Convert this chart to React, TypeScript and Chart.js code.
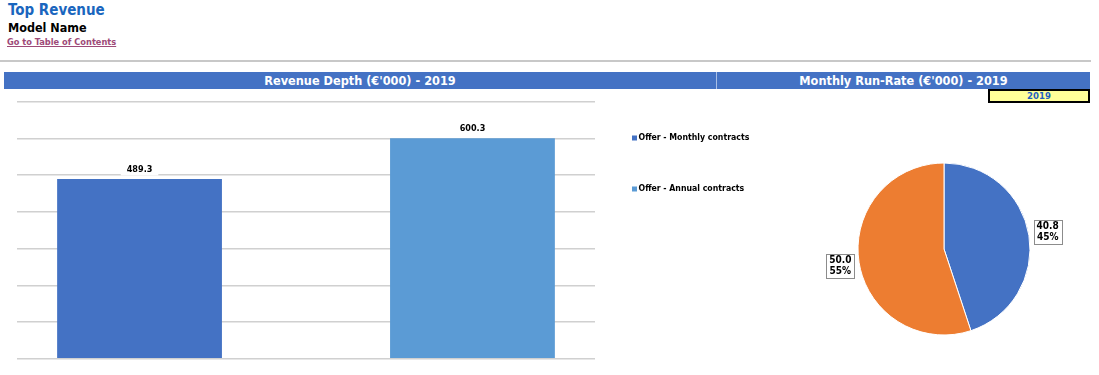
import React, { useEffect, useRef } from "react";
import { Chart, registerables } from "chart.js";
Chart.register(...registerables);

const barCategory = ["2019"];
const barSeries = ["Offer - Monthly contracts", "Offer - Annual contracts"];
const barValues = [489.3, 600.3];
const barColors = ["#4472C4", "#5B9BD5"];
const yMin = 0;
const yMax = 700;
const yStep = 100;

const pieLabels = ["Offer - Monthly contracts", "Offer - Annual contracts"];
const pieValues = [40.8, 50.0];
const pieColors = ["#4472C4", "#ED7D31"];

const pageTitle = "Top Revenue";
const modelName = "Model Name";
const tocLink = "Go to Table of Contents";
const leftHeader = "Revenue Depth (€'000) - 2019";
const rightHeader = "Monthly Run-Rate (€'000) - 2019";
const yearBox = "2019";

const FONT = "'DejaVu Sans Condensed', 'DejaVu Sans', sans-serif";

const barLabelPlugin = {
  id: "barLabels",
  afterDatasetsDraw(chart: any) {
    const ctx = chart.ctx;
    ctx.save();
    ctx.font = `bold 9px ${FONT}`;
    ctx.textAlign = "center";
    ctx.textBaseline = "middle";
    chart.data.datasets.forEach((ds: any, di: number) => {
      const meta = chart.getDatasetMeta(di);
      meta.data.forEach((el: any, i: number) => {
        const txt = Number(ds.data[i]).toFixed(1);
        const w = ctx.measureText(txt).width + 12;
        const y = el.y - 9.5;
        ctx.fillStyle = "#FFFFFF";
        ctx.fillRect(el.x - w / 2, y - 6, w, 12);
        ctx.fillStyle = "#000000";
        ctx.fillText(txt, el.x, y);
      });
    });
    ctx.restore();
  },
};

const barLegendPlugin = {
  id: "barLegend",
  afterDraw(chart: any) {
    const ctx = chart.ctx;
    ctx.save();
    ctx.font = `bold 8.7px ${FONT}`;
    ctx.textBaseline = "middle";
    ctx.textAlign = "left";
    const rows = [43, 94];
    chart.data.datasets.forEach((ds: any, di: number) => {
      const y = rows[di];
      ctx.fillStyle = ds.backgroundColor;
      ctx.fillRect(632, y - 2.5, 5, 5);
      ctx.fillStyle = "#000000";
      ctx.fillText(ds.label, 638.5, y);
    });
    ctx.restore();
  },
};

const pieLabelPlugin = {
  id: "pieLabels",
  afterDatasetsDraw(chart: any) {
    const ctx = chart.ctx;
    const ds = chart.data.datasets[0];
    const total = ds.data.reduce((a: number, b: number) => a + b, 0);
    const meta = chart.getDatasetMeta(0);
    ctx.save();
    ctx.font = `bold 10px ${FONT}`;
    ctx.textAlign = "center";
    ctx.textBaseline = "middle";
    meta.data.forEach((arc: any, i: number) => {
      const mid = (arc.startAngle + arc.endAngle) / 2;
      const r = arc.outerRadius + 19;
      const x = arc.x + Math.cos(mid) * r;
      const y = arc.y + Math.sin(mid) * r;
      const l1 = Number(ds.data[i]).toFixed(1);
      const l2 = Math.round((ds.data[i] / total) * 100) + "%";
      const w = Math.max(ctx.measureText(l1).width, ctx.measureText(l2).width) + 6;
      const h = 24;
      ctx.fillStyle = "#FFFFFF";
      ctx.fillRect(x - w / 2, y - h / 2, w, h);
      ctx.strokeStyle = "#8C8C8C";
      ctx.lineWidth = 1;
      ctx.strokeRect(Math.round(x - w / 2) + 0.5, Math.round(y - h / 2) + 0.5, Math.round(w), h);
      ctx.fillStyle = "#000000";
      ctx.fillText(l1, x, y - 5.5);
      ctx.fillText(l2, x, y + 5.5);
    });
    ctx.restore();
  },
};

function BarChart() {
  const ref = useRef<HTMLCanvasElement>(null);
  useEffect(() => {
    const chart = new Chart(ref.current as HTMLCanvasElement, {
      type: "bar",
      data: {
        labels: barCategory,
        datasets: barSeries.map((s, i) => ({
          label: s,
          data: [barValues[i]],
          backgroundColor: barColors[i],
          categoryPercentage: 1.152,
          barPercentage: 0.495,
        })),
      },
      options: {
        animation: false,
        responsive: false,
        maintainAspectRatio: false,
        layout: { padding: { left: 17, right: 165, top: 6.6, bottom: 11.2 } },
        plugins: { legend: { display: false }, tooltip: { enabled: false } },
        scales: {
          x: { display: false },
          y: {
            min: yMin,
            max: yMax,
            ticks: { display: false, stepSize: yStep },
            border: { display: false },
            grid: { color: "#D0D0D0", lineWidth: 1.6, drawTicks: false },
          },
        },
      },
      plugins: [barLabelPlugin, barLegendPlugin],
    } as any);
    return () => chart.destroy();
  }, []);
  return (
    <canvas
      ref={ref}
      width={760}
      height={275}
      style={{ position: "absolute", left: 0, top: 95, width: 760, height: 275 }}
    />
  );
}

function PieChart() {
  const ref = useRef<HTMLCanvasElement>(null);
  useEffect(() => {
    const chart = new Chart(ref.current as HTMLCanvasElement, {
      type: "pie",
      data: {
        labels: pieLabels,
        datasets: [
          {
            data: pieValues,
            backgroundColor: pieColors,
            borderColor: "#FFFFFF",
            borderWidth: 1,
          },
        ],
      },
      options: {
        animation: false,
        responsive: false,
        maintainAspectRatio: false,
        radius: 86,
        plugins: { legend: { display: false }, tooltip: { enabled: false } },
      },
      plugins: [pieLabelPlugin],
    } as any);
    return () => chart.destroy();
  }, []);
  return (
    <canvas
      ref={ref}
      width={288}
      height={198}
      style={{ position: "absolute", left: 800, top: 150, width: 288, height: 198 }}
    />
  );
}

export default function App() {
  return (
    <div
      style={{
        position: "absolute",
        left: 0,
        top: 0,
        width: 1099,
        height: 375,
        background: "#FFFFFF",
        fontFamily: FONT,
        overflow: "hidden",
      }}
    >
      <div
        style={{
          position: "absolute",
          left: 8,
          top: 1,
          fontSize: 15,
          fontWeight: "bold",
          color: "#1A66BE",
          whiteSpace: "nowrap",
          lineHeight: "18px",
        }}
      >
        {pageTitle}
      </div>
      <div
        style={{
          position: "absolute",
          left: 8,
          top: 20,
          fontSize: 12.5,
          fontWeight: "bold",
          color: "#000000",
          whiteSpace: "nowrap",
          lineHeight: "16px",
        }}
      >
        {modelName}
      </div>
      <div
        style={{
          position: "absolute",
          left: 7,
          top: 36,
          fontSize: 9.2,
          fontWeight: "bold",
          color: "#9E4A78",
          textDecoration: "underline",
          whiteSpace: "nowrap",
          lineHeight: "12px",
        }}
      >
        {tocLink}
      </div>
      <div
        style={{
          position: "absolute",
          left: 0,
          top: 60,
          width: 1091,
          height: 2,
          background: "#C8C8C8",
        }}
      />
      <div
        style={{
          position: "absolute",
          left: 4,
          top: 72,
          width: 712,
          height: 17,
          background: "#4472C4",
          color: "#FFFFFF",
          fontWeight: "bold",
          fontSize: 12.6,
          lineHeight: "17px",
          textAlign: "center",
          whiteSpace: "nowrap",
        }}
      >
        {leftHeader}
      </div>
      <div
        style={{
          position: "absolute",
          left: 716,
          top: 72,
          width: 1,
          height: 17,
          background: "#A9BFE6",
        }}
      />
      <div
        style={{
          position: "absolute",
          left: 717,
          top: 72,
          width: 373,
          height: 17,
          background: "#4472C4",
          color: "#FFFFFF",
          fontWeight: "bold",
          fontSize: 12.6,
          lineHeight: "17px",
          textAlign: "center",
          whiteSpace: "nowrap",
        }}
      >
        {rightHeader}
      </div>
      <div
        style={{
          position: "absolute",
          left: 988,
          top: 89,
          width: 98,
          height: 10,
          border: "2px solid #000000",
          background: "#FFFF99",
          color: "#1F5FBF",
          fontWeight: "bold",
          fontSize: 9.5,
          lineHeight: "10px",
          textAlign: "center",
          whiteSpace: "nowrap",
        }}
      >
        {yearBox}
      </div>
      <BarChart />
      <PieChart />
    </div>
  );
}
